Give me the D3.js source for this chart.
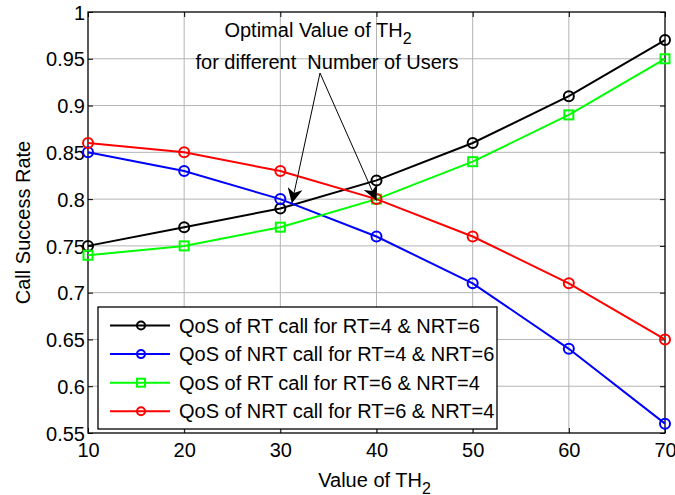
<!DOCTYPE html>
<html>
<head>
<meta charset="utf-8">
<script src="https://cdn.jsdelivr.net/npm/d3@7"></script>
<style>
    body { margin: 0; background: #fff; }
    svg text { font-family: "Liberation Sans", Arial, sans-serif; fill: #000; }
</style>
</head>
<body>
<svg id="chart" width="675" height="495"></svg>
<script>
const thValues = [10, 20, 30, 40, 50, 60, 70];
const rtCall46 = [0.75, 0.77, 0.79, 0.82, 0.86, 0.91, 0.97];
const nrtCall46 = [0.85, 0.83, 0.80, 0.76, 0.71, 0.64, 0.56];
const rtCall64 = [0.74, 0.75, 0.77, 0.80, 0.84, 0.89, 0.95];
const nrtCall64 = [0.86, 0.85, 0.83, 0.80, 0.76, 0.71, 0.65];
const xTicks = [10, 20, 30, 40, 50, 60, 70];
const yTicks = [0.55, 0.6, 0.65, 0.7, 0.75, 0.8, 0.85, 0.9, 0.95, 1];
const optimalPoints = [[31.2, 0.7955], [40, 0.7985]];

const series = [
    { name: 'QoS of RT call for RT=4 & NRT=6', values: rtCall46, color: '#000000', marker: 'circle' },
    { name: 'QoS of NRT call for RT=4 & NRT=6', values: nrtCall46, color: '#0000ff', marker: 'circle' },
    { name: 'QoS of RT call for RT=6 & NRT=4', values: rtCall64, color: '#00ff00', marker: 'square' },
    { name: 'QoS of NRT call for RT=6 & NRT=4', values: nrtCall64, color: '#ff0000', marker: 'circle' },
];

const margin = { left: 88, right: 10, top: 12, bottom: 62 };
const width = 675, height = 495;
const fontSize = 20;
const svg = d3.select('#chart');

const x = d3.scaleLinear().domain([10, 70]).range([margin.left, width - margin.right]);
const y = d3.scaleLinear().domain([0.55, 1]).range([height - margin.bottom, margin.top]);

// grid
const grid = svg.append('g').attr('stroke', '#b4b4b4').attr('stroke-width', 1);
grid.selectAll('.gx').data(xTicks.slice(1, -1)).enter().append('line')
    .attr('x1', d => x(d)).attr('x2', d => x(d))
    .attr('y1', y(0.55)).attr('y2', y(1));
grid.selectAll('.gy').data(yTicks.slice(1, -1)).enter().append('line')
    .attr('y1', d => y(d)).attr('y2', d => y(d))
    .attr('x1', x(10)).attr('x2', x(70));

// axes with inward ticks
const xAxis = svg.append('g').attr('transform', `translate(0,${y(0.55)})`)
    .call(d3.axisBottom(x).tickValues(xTicks).tickSizeInner(-5).tickSizeOuter(0))
    .call(g => g.select('.domain').remove());
xAxis.selectAll('.tick text').attr('y', 24).attr('dy', 0);
const yAxis = svg.append('g').attr('transform', `translate(${x(10)},0)`)
    .call(d3.axisLeft(y).tickValues(yTicks).tickFormat(d => String(+d.toFixed(2))).tickSizeInner(-5).tickSizeOuter(0))
    .call(g => g.select('.domain').remove());
yAxis.selectAll('.tick text').attr('x', -3).attr('dy', '0.36em');
svg.append('g').attr('transform', `translate(0,${y(1)})`)
    .call(d3.axisTop(x).tickValues(xTicks).tickSizeInner(-5).tickSizeOuter(0).tickFormat(''))
    .call(g => g.select('.domain').remove());
svg.append('g').attr('transform', `translate(${x(70)},0)`)
    .call(d3.axisRight(y).tickValues(yTicks).tickSizeInner(-5).tickSizeOuter(0).tickFormat(''))
    .call(g => g.select('.domain').remove());
svg.selectAll('.tick text').attr('font-size', fontSize).style('font-family', '"Liberation Sans", Arial, sans-serif');
svg.selectAll('.tick line').attr('stroke', '#000');

svg.append('rect')
    .attr('x', x(10)).attr('y', y(1))
    .attr('width', x(70) - x(10)).attr('height', y(0.55) - y(1))
    .attr('fill', 'none').attr('stroke', '#000').attr('stroke-width', 1.3);

// series
const line = d3.line().x((d, i) => x(thValues[i])).y(d => y(d));
function drawMarker(g, type, color, cx, cy, r) {
    if (type === 'square') {
        g.append('rect').attr('x', cx - r).attr('y', cy - r).attr('width', 2 * r).attr('height', 2 * r)
            .attr('fill', 'none').attr('stroke', color).attr('stroke-width', 2);
    } else {
        g.append('circle').attr('cx', cx).attr('cy', cy).attr('r', r)
            .attr('fill', 'none').attr('stroke', color).attr('stroke-width', 2);
    }
}
series.forEach(s => {
    const g = svg.append('g');
    g.append('path').attr('d', line(s.values)).attr('fill', 'none')
        .attr('stroke', s.color).attr('stroke-width', 2);
    s.values.forEach((v, i) => drawMarker(g, s.marker, s.color, x(thValues[i]), y(v), s.marker === 'square' ? 4.5 : 5));
});

// annotation
const ann = svg.append('g');
ann.append('text').attr('x', 318).attr('y', 37).attr('text-anchor', 'middle').attr('font-size', fontSize)
    .text('Optimal Value of TH')
    .append('tspan').attr('font-size', 16).attr('dy', 7).text('2');
ann.append('text').attr('x', 327).attr('y', 69).attr('text-anchor', 'middle').attr('font-size', fontSize)
    .style('white-space', 'pre')
    .text('for different  Number of Users');

const defs = svg.append('defs');
defs.append('marker').attr('id', 'arrowhead').attr('viewBox', '0 0 10 10')
    .attr('refX', 10).attr('refY', 5).attr('markerWidth', 15).attr('markerHeight', 15)
    .attr('markerUnits', 'userSpaceOnUse').attr('orient', 'auto')
    .append('path').attr('d', 'M0,0 L10,5 L0,10 L3,5 Z').attr('fill', '#000');
const origin = [320, 73];
optimalPoints.forEach(p => {
    ann.append('line').attr('x1', origin[0]).attr('y1', origin[1])
        .attr('x2', x(p[0])).attr('y2', y(p[1]))
        .attr('stroke', '#000').attr('stroke-width', 1)
        .attr('marker-end', 'url(#arrowhead)');
});

// legend
const lg = svg.append('g');
lg.append('rect').attr('x', 98).attr('y', 307).attr('width', 399).attr('height', 122)
    .attr('fill', '#fff').attr('stroke', '#000').attr('stroke-width', 1.3);
series.forEach((s, i) => {
    const ly = 325.5 + i * 28.6;
    lg.append('line').attr('x1', 110).attr('x2', 170).attr('y1', ly).attr('y2', ly)
        .attr('stroke', s.color).attr('stroke-width', 2);
    drawMarker(lg, s.marker, s.color, 141, ly, 4);
    lg.append('text').attr('x', 179).attr('y', ly + 7).attr('font-size', fontSize).text(s.name);
});

// axis titles
svg.append('text').attr('x', x(40) - 2).attr('y', 487).attr('text-anchor', 'middle').attr('font-size', fontSize)
    .text('Value of TH')
    .append('tspan').attr('font-size', 16).attr('dy', 7).text('2');
svg.append('text').attr('transform', `translate(30,${(y(0.55) + y(1)) / 2}) rotate(-90)`)
    .attr('text-anchor', 'middle').attr('font-size', fontSize).text('Call Success Rate');
</script>
</body>
</html>
